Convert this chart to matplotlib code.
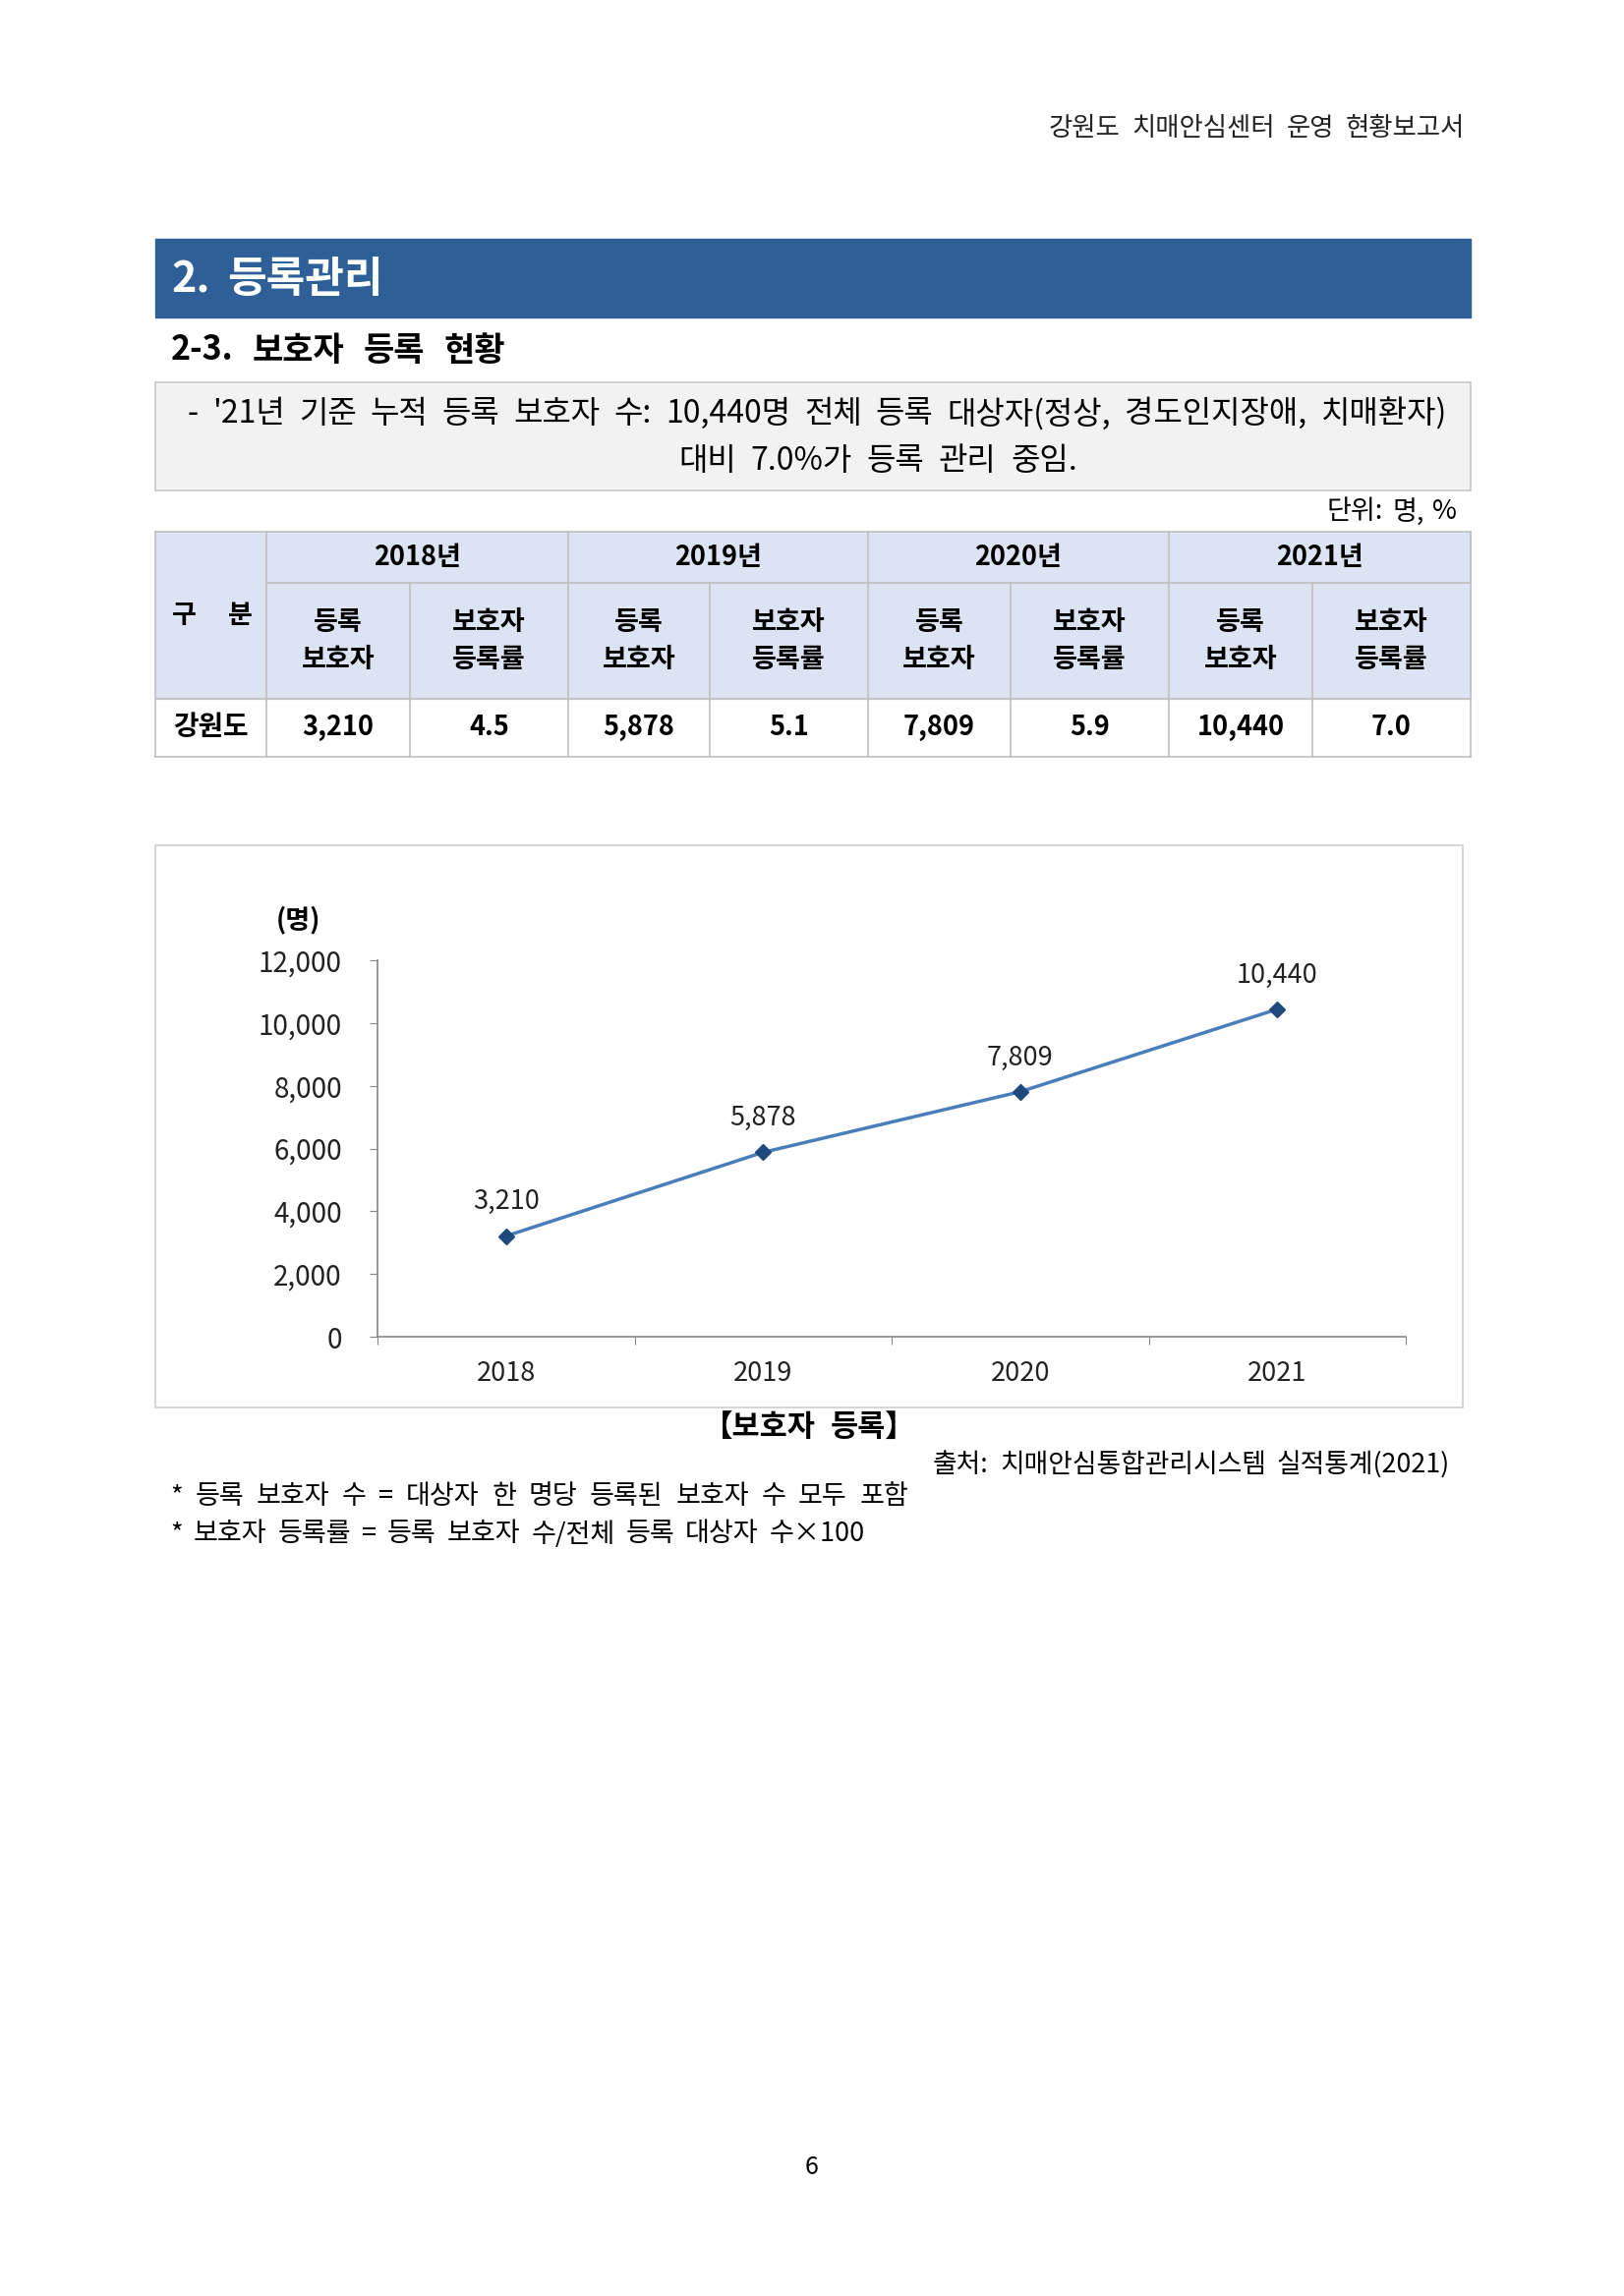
import numpy as np
import matplotlib.pyplot as plt
from matplotlib.patches import Rectangle

plt.rcParams['font.family'] = ['Noto Sans CJK KR', 'DejaVu Sans']

# data
years = ['2018', '2019', '2020', '2021']
guardians = [3210, 5878, 7809, 10440]
rates = [4.5, 5.1, 5.9, 7.0]
yticks = [0, 2000, 4000, 6000, 8000, 10000, 12000]

W, H = 1652, 2336
fig = plt.figure(figsize=(W / 100, H / 100), dpi=100)
bg = fig.add_axes([0, 0, 1, 1])
bg.set_xlim(0, W)
bg.set_ylim(H, 0)
bg.axis('off')
renderer = fig.canvas.get_renderer()


def spread(line, x0, x1, y, **kw):
    # place words so the line runs from x0 to x1 (word-spaced like the document)
    words = line.split(' ')
    texts = [bg.text(0, y, w, ha='left', va='center', **kw) for w in words]
    widths = [t.get_window_extent(renderer).width for t in texts]
    gap = (x1 - x0 - sum(widths)) / max(len(words) - 1, 1)
    pos = x0
    for t, w in zip(texts, widths):
        t.set_x(pos)
        pos += w + gap


# page header
spread('강원도 치매안심센터 운영 현황보고서', 1067, 1490, 130, fontsize=19, color='#222222')

# section banner
bg.add_patch(Rectangle((158, 243), 1338, 80, color='#2F5F97'))
spread('2. 등록관리', 174, 390, 284, fontsize=31, fontweight='bold', color='white')
spread('2-3. 보호자 등록 현황', 174, 514, 356, fontsize=24.5, fontweight='bold', color='black')

# summary box
bg.add_patch(Rectangle((158, 389), 1338, 110, facecolor='#F2F2F2',
                       edgecolor='#C8C8C8', lw=1.2))
spread("- '21년 기준 누적 등록 보호자 수: 10,440명 전체 등록 대상자(정상, 경도인지장애, 치매환자)",
       191, 1472, 421, fontsize=23)
spread('대비 7.0%가 등록 관리 중임.', 690, 1096, 469, fontsize=23)
spread('단위: 명, %', 1350, 1482, 521, fontsize=19.5)

# table
cols = [158, 271, 417, 578, 722, 883, 1028, 1189, 1335, 1496]
r0, r1, r2, r3 = 541, 593, 711, 770
hdr = '#DCE3F3'
lc = '#BFBFBF'
bg.add_patch(Rectangle((cols[0], r0), cols[-1] - cols[0], r2 - r0, color=hdr))
for y in [r0, r2, r3]:
    bg.plot([cols[0], cols[-1]], [y, y], color=lc, lw=1.2)
bg.plot([cols[1], cols[-1]], [r1, r1], color=lc, lw=1.2)
for i, x in enumerate(cols):
    top = r1 if i in (2, 4, 6, 8) else r0
    bg.plot([x, x], [top, r3], color=lc, lw=1.2)

spread('구 분', 175, 257, 626, fontsize=19.5, fontweight='bold')
bg.text((cols[0] + cols[1]) / 2, (r2 + r3) / 2, '강원도', ha='center', va='center',
        fontsize=20, fontweight='bold')
for k, yr in enumerate(years):
    a, b, c = cols[1 + 2 * k], cols[2 + 2 * k], cols[3 + 2 * k]
    bg.text((a + c) / 2, (r0 + r1) / 2, yr + '년', ha='center', va='center',
            fontsize=19.5, fontweight='bold')
    bg.text((a + b) / 2, (r1 + r2) / 2, '등록\n보호자', ha='center', va='center',
            fontsize=19.5, fontweight='bold', linespacing=1.45)
    bg.text((b + c) / 2, (r1 + r2) / 2, '보호자\n등록률', ha='center', va='center',
            fontsize=19.5, fontweight='bold', linespacing=1.45)
    bg.text((a + b) / 2, (r2 + r3) / 2, f'{guardians[k]:,}', ha='center', va='center',
            fontsize=19.5, fontweight='bold')
    bg.text((b + c) / 2, (r2 + r3) / 2, f'{rates[k]:.1f}', ha='center', va='center',
            fontsize=19.5, fontweight='bold')

# chart frame
bg.add_patch(Rectangle((158, 860), 1330, 572, facecolor='none', edgecolor='#D0D0D0', lw=1.2))
bg.text(303, 936, '(명)', ha='center', va='center', fontsize=19.5, fontweight='bold')

# line chart
ax = fig.add_axes([384 / W, 1 - 1360 / H, 1046 / W, 383 / H])
ax.patch.set_alpha(0)
x = np.arange(len(years))
ax.plot(x, guardians, color='#4A7EBB', lw=2.5, marker='D', ms=8,
        mfc='#1F497D', mec='#1F497D', zorder=3)
for xi, v in zip(x, guardians):
    ax.annotate(f'{v:,}', (xi, v), xytext=(0, 25), textcoords='offset points',
                ha='center', va='center', fontsize=19.5, color='#222222')
ax.set_xlim(-0.5, len(years) - 0.5)
ax.set_ylim(0, 12000)
ax.set_yticks(yticks)
ax.set_yticklabels([f'{v:,}' for v in yticks])
ax.set_xticks(np.arange(len(years) + 1) - 0.5)
ax.set_xticklabels([])
ax.set_xticks(x, minor=True)
ax.set_xticklabels(years, minor=True)
ax.tick_params(axis='x', which='major', length=6, direction='out', color='#868686')
ax.tick_params(axis='x', which='minor', length=0, pad=17, labelsize=19.5, labelcolor='#222222')
ax.tick_params(axis='y', length=6, direction='out', color='#868686', pad=20,
               labelsize=20, labelcolor='#222222')
for s in ['top', 'right']:
    ax.spines[s].set_visible(False)
for s in ['left', 'bottom']:
    ax.spines[s].set_color('#868686')
    ax.spines[s].set_linewidth(1.2)

# caption and notes
spread('【보호자 등록】', 715, 931, 1452, fontsize=22, fontweight='bold')
spread('출처: 치매안심통합관리시스템 실적통계(2021)', 949, 1475, 1490, fontsize=19.3)
spread('* 등록 보호자 수 = 대상자 한 명당 등록된 보호자 수 모두 포함', 173, 924, 1523, fontsize=19.5)
spread('* 보호자 등록률 = 등록 보호자 수/전체 등록 대상자 수×100', 173, 880, 1561, fontsize=19.5)

bg.text(826, 2205, '6', ha='center', va='center', fontsize=18)

fig.savefig('out.png', dpi=100)
